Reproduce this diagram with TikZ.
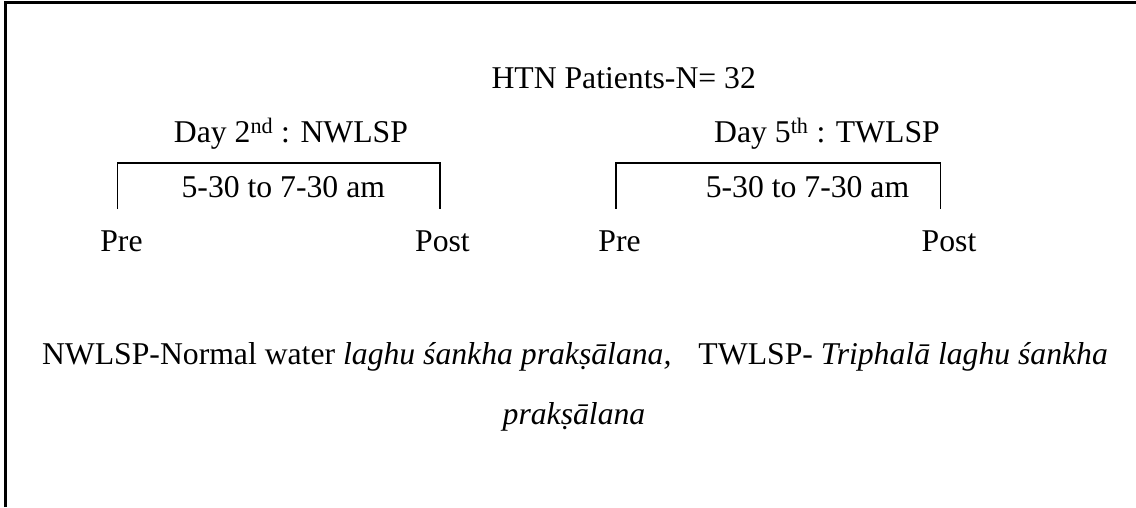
\documentclass[tikz,border=0pt]{standalone}
\usepackage{fontspec}
\setmainfont{Liberation Serif}
\begin{document}
\begin{tikzpicture}[x=1pt,y=1pt,
  lbl/.style={anchor=base,inner sep=0pt,font=\fontsize{31.7}{38}\selectfont},
  frameline/.style={line width=2.6pt,black},
  brk/.style={line width=1.9pt,black}]
\useasboundingbox (0,0) rectangle (1136,-507);
% frame
\draw[frameline] (5.5,-507) -- (5.5,-2.5) -- (1136,-2.5);
% title
\node[lbl] (htn) at (623.7,-88.3) {HTN Patients-N= 32};
% day labels
\node[lbl] (d2) at (291,-142.3) {Day 2\textsuperscript{nd} : NWLSP};
\node[lbl] (d5) at (827,-142.3) {Day 5\textsuperscript{th} : TWLSP};
% brackets
\coordinate (b1a) at (117.5,-209);
\coordinate (b1b) at (117.5,-163.3);
\coordinate (b1c) at (440,-163.3);
\coordinate (b1d) at (440,-209);
\draw[brk] (b1a) -- (b1b) -- (b1c) -- (b1d);
\coordinate (b2a) at (616,-208.7);
\coordinate (b2b) at (616,-163);
\coordinate (b2c) at (940.5,-163);
\coordinate (b2d) at (940.5,-208.7);
\draw[brk] (b2a) -- (b2b) -- (b2c) -- (b2d);
% times
\node[lbl] (t1) at (283.3,-197.7) {5-30 to 7-30 am};
\node[lbl] (t2) at (807.5,-197.7) {5-30 to 7-30 am};
% pre/post
\node[lbl] (pre1) at (121.5,-251) {Pre};
\node[lbl] (post1) at (442.5,-251) {Post};
\node[lbl] (pre2) at (619.5,-251) {Pre};
\node[lbl] (post2) at (949,-251) {Post};
% legend
\node[lbl] (leg1) at (575,-364) {NWLSP-Normal water \textit{laghu śankha prakṣālana,}\hspace{0.6em} TWLSP- \textit{Triphalā laghu śankha}};
\node[lbl] (leg2) at (574,-424) {\textit{prakṣālana}};
\end{tikzpicture}
\end{document}
